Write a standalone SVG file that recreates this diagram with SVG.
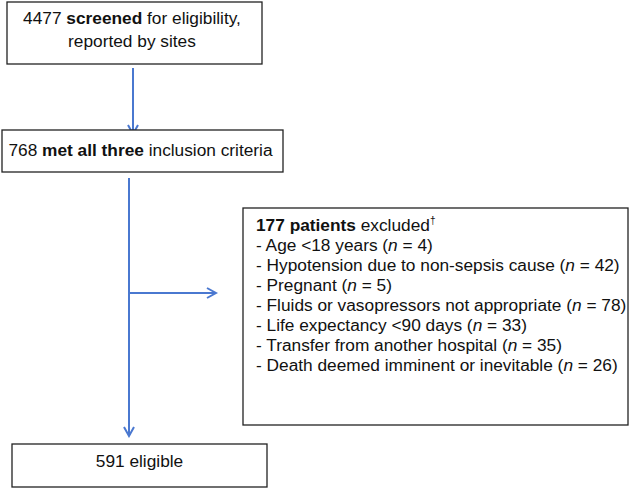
<svg xmlns="http://www.w3.org/2000/svg" width="633" height="488" viewBox="0 0 633 488">
<style>
.box{fill:#fff;stroke:#222;stroke-width:1.3}
.t{font-family:"Liberation Sans",Arial,sans-serif;font-size:17.3px;fill:#111}
.b{font-weight:bold}
.i{font-style:italic}
.c{fill:none;stroke:#4a78d0;stroke-width:2}
</style>
<defs>
<marker id="ah" markerWidth="12" markerHeight="12" refX="10" refY="6" orient="auto" markerUnits="userSpaceOnUse">
<path d="M1,1 L10,6 L1,11" fill="none" stroke="#4a78d0" stroke-width="2"/>
</marker>
</defs>
<g id="connectors">
<line class="c" x1="133" y1="68" x2="133" y2="134" marker-end="url(#ah)"/>
<line class="c" x1="129" y1="178" x2="129" y2="436" marker-end="url(#ah)"/>
<line class="c" x1="130" y1="293" x2="216" y2="293" marker-end="url(#ah)"/>
</g>
<g id="screened">
<rect class="box" x="7" y="2" width="255" height="62"/>
<text class="t" x="132" y="24" text-anchor="middle">4477 <tspan class="b">screened</tspan> for eligibility,</text>
<text class="t" x="132" y="47" text-anchor="middle">reported by sites</text>
</g>
<g id="met">
<rect class="box" x="2" y="130" width="281" height="42"/>
<text class="t" x="140.5" y="156" text-anchor="middle">768 <tspan class="b">met all three</tspan> inclusion criteria</text>
</g>
<g id="excluded">
<rect class="box" x="243" y="208" width="385" height="217"/>
<text class="t" x="256" y="231"><tspan class="b">177 patients</tspan> excluded<tspan font-size="10" dy="-7">†</tspan></text>
<text class="t" x="256" y="251">- Age &lt;18 years (<tspan class="i">n</tspan> = 4)</text>
<text class="t" x="256" y="271">- Hypotension due to non-sepsis cause (<tspan class="i">n</tspan> = 42)</text>
<text class="t" x="256" y="290.5">- Pregnant (<tspan class="i">n</tspan> = 5)</text>
<text class="t" x="256" y="310.5">- Fluids or vasopressors not appropriate (<tspan class="i">n</tspan> = 78)</text>
<text class="t" x="256" y="330.5">- Life expectancy &lt;90 days (<tspan class="i">n</tspan> = 33)</text>
<text class="t" x="256" y="350.5">- Transfer from another hospital (<tspan class="i">n</tspan> = 35)</text>
<text class="t" x="256" y="370.5">- Death deemed imminent or inevitable (<tspan class="i">n</tspan> = 26)</text>
</g>
<g id="eligible">
<rect class="box" x="12" y="444" width="255" height="43"/>
<text class="t" x="139.5" y="467" text-anchor="middle">591 eligible</text>
</g>
</svg>
